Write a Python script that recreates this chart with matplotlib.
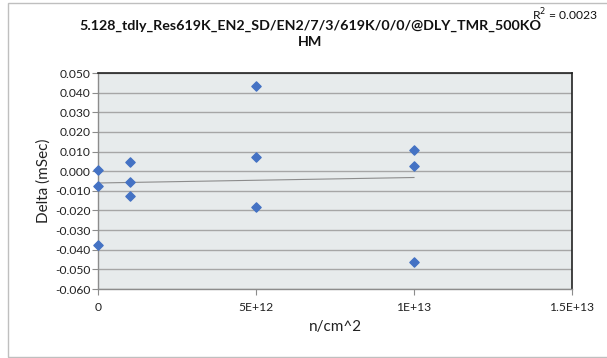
import numpy as np
import matplotlib
matplotlib.use("Agg")
import matplotlib.pyplot as plt
from matplotlib.patches import Rectangle

plt.rcParams['font.family'] = ['Lato', 'DejaVu Sans']

# Data
fluence = [0, 0, 0, 1e12, 1e12, 1e12, 5e12, 5e12, 5e12, 1e13, 1e13, 1e13]
delta = [0.0006, -0.0074, -0.0376, 0.0045, -0.0057, -0.0125,
         0.0435, 0.0074, -0.0184, 0.0106, 0.0026, -0.0464]
x_ticks = [0, 5e12, 1e13, 1.5e13]
x_tick_labels = ['0', '5E+12', '1E+13', '1.5E+13']
y_ticks = [0.05, 0.04, 0.03, 0.02, 0.01, 0.0, -0.01, -0.02, -0.03, -0.04, -0.05, -0.06]
title = "5.128_tdly_Res619K_EN2_SD/EN2/7/3/619K/0/0/@DLY_TMR_500KO\nHM"
r2_label = "R$^2$ = 0.0023"

W, H = 607, 358
fig = plt.figure(figsize=(W / 100, H / 100), dpi=100)
fig.patch.set_facecolor('white')

# outer border
fig.patches.append(Rectangle((8 / W, 1 - 357 / H), 1.2, (357 - 3) / H,
                             transform=fig.transFigure, fill=False,
                             edgecolor='#BFBFBF', linewidth=1.0))

left, right, top, bottom = 98, 572, 73, 289
ax = fig.add_axes([left / W, 1 - bottom / H, (right - left) / W, (bottom - top) / H])
ax.set_facecolor('#E7EBEC')

ax.set_xlim(0, 1.5e13)
ax.set_ylim(-0.06, 0.05)
ax.set_xticks(x_ticks)
ax.set_xticklabels(x_tick_labels)
ax.set_yticks(y_ticks)
ax.set_yticklabels([f"{v:.3f}" for v in y_ticks])
ax.grid(axis='y', color='#A6A6A6', linewidth=1.0)
ax.set_axisbelow(True)

for s in ['top', 'right']:
    ax.spines[s].set_color('#222222')
    ax.spines[s].set_linewidth(1.2)
for s in ['left', 'bottom']:
    ax.spines[s].set_color('#8C8C8C')
    ax.spines[s].set_linewidth(1.0)

ax.tick_params(axis='both', direction='out', length=4, width=0.8, color='#8C8C8C',
               labelsize=8.7, labelcolor='#222222', pad=1.5)
ax.tick_params(axis='x', pad=5.5)

# trendline
coef = np.polyfit(fluence, delta, 1)
xs = np.array([min(fluence), max(fluence)])
ax.plot(xs, np.polyval(coef, xs), color='#8C8C8C', linewidth=0.8, zorder=2)

ax.scatter(fluence, delta, marker='D', s=22, color='#4472C4', zorder=3, clip_on=False)

ax.set_xlabel('n/cm^2', fontsize=11, color='#222222', labelpad=5)
ax.set_ylabel('Delta (mSec)', fontsize=11, color='#222222', labelpad=3)

fig.text(310 / W, 1 - 34 / H, title, ha='center', va='center', fontsize=10.3,
         fontweight='bold', color='#111111', linespacing=1.45)
fig.text(532 / W, 1 - 15 / H, r2_label, ha='left', va='center', fontsize=8.7,
         color='#111111')

fig.savefig('out.png', dpi=100)
